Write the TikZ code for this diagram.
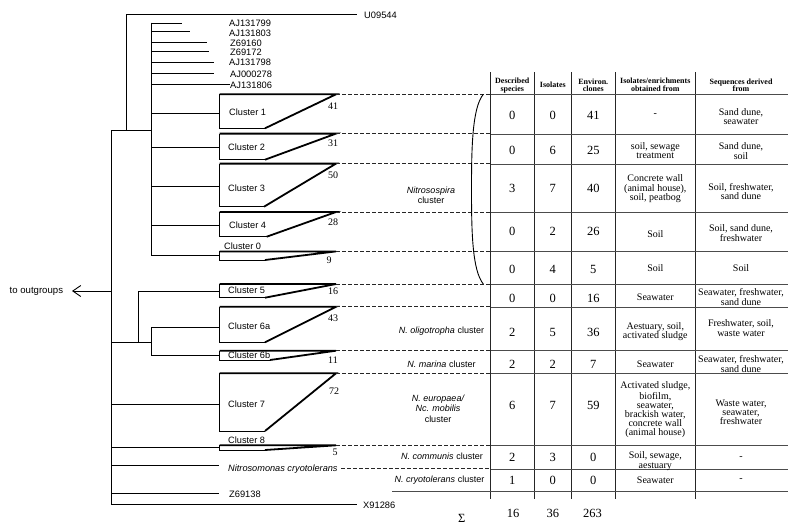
\documentclass[tikz,border=0pt]{standalone}
\usepackage{fontspec}
\setmainfont{Liberation Serif}
\setsansfont{Liberation Sans}
\usetikzlibrary{arrows.meta}
\tikzset{
 br/.style={line width=1pt},
 wthin/.style={line width=0.8pt},
 wthick/.style={line width=1.8pt, line join=miter},
 dsh/.style={dash pattern=on 3.5pt off 2.5pt, line width=0.8pt, black!85},
 rowl/.style={line width=1pt, black!70},
 coll/.style={line width=0.9pt, black!85},
 leaf/.style={font=\sffamily\fontsize{9.3}{10}\selectfont, anchor=west, inner sep=0pt},
 clab/.style={font=\sffamily\fontsize{9.2}{10}\selectfont, anchor=west, inner sep=0pt},
 wnum/.style={font=\fontsize{10}{10}\selectfont, inner sep=0pt},
 grp/.style={font=\sffamily\fontsize{9}{10.5}\selectfont, align=center, inner sep=0pt},
 hdr/.style={font=\bfseries\fontsize{8}{7.5}\selectfont, align=center, inner sep=0pt},
 val/.style={font=\fontsize{12.5}{13}\selectfont, inner sep=0pt},
 cell/.style={font=\fontsize{10}{9.6}\selectfont, align=center, inner sep=0pt},
}
\newcommand{\clwedge}[4]{%
  \coordinate (#1tl) at (219.5,#2);
  \coordinate (#1bl) at (219.5,#3);
  \coordinate (#1bx) at (#4,#3);
  \coordinate (#1tip) at (336,#2);
  \coordinate (#1end) at (490.5,#2);
  \draw[wthin] (#1tl) -- (#1bl) -- (#1bx);
  \draw[wthick] (#1tl) -- (#1tip) -- (#1bx);
  \draw[dsh] (#1tip) -- (#1end);
}
\begin{document}
\begin{tikzpicture}[x=1pt,y=-1pt]
\useasboundingbox (0,0) rectangle (800,528);
\fill[white] (0,0) rectangle (800,528);

% ---------- tree skeleton ----------
\coordinate (rtop) at (111,130);
\coordinate (rbot) at (111,504.3);
\draw[br] (rtop) -- (rbot);
\coordinate (n1) at (151,130);
\coordinate (u0) at (126,130);
\coordinate (u1) at (126,14.7);
\coordinate (u2) at (357,14.7);
\draw[br] (rtop) -- (n1);
\draw[br] (u0) -- (u1) -- (u2);
\node[leaf] (lU) at (364,15) {U09544};

% inner Nitrosospira node
\coordinate (it) at (151,22.7);
\coordinate (ib) at (151,255.7);
\draw[br] (it) -- (ib);
\foreach \i/\y/\x in {1/23/182, 2/31.7/190, 3/42/207, 4/51.7/209, 5/62/214, 6/73/214, 7/84.3/230}{
  \coordinate (la\i) at (151,\y);
  \coordinate (lb\i) at (\x,\y);
  \draw[br] (la\i) -- (lb\i);
}
\node[leaf] (l1) at (229,23.7) {AJ131799};
\node[leaf] (l2) at (229,33) {AJ131803};
\node[leaf] (l3) at (230,43.3) {Z69160};
\node[leaf] (l4) at (230,52.7) {Z69172};
\node[leaf] (l5) at (229,62.3) {AJ131798};
\node[leaf] (l6) at (230,74.3) {AJ000278};
\node[leaf] (l7) at (230,85.7) {AJ131806};

% branches to clusters 1-4, 0
\foreach \i/\y in {1/113, 2/147, 3/186, 4/225, 0/255.7}{
  \coordinate (ba\i) at (151,\y);
  \coordinate (bb\i) at (219.5,\y);
  \draw[br] (ba\i) -- (bb\i);
}

% group: cluster 5, 6a, 6b
\coordinate (g0) at (111,342.7);
\coordinate (g1) at (151,342.7);
\coordinate (g5a) at (138,342.7);
\coordinate (g5b) at (138,291.7);
\coordinate (g5c) at (219.5,291.7);
\draw[br] (g0) -- (g1);
\draw[br] (g5a) -- (g5b) -- (g5c);
\coordinate (g6t) at (151,327.3);
\coordinate (g6b) at (151,355.7);
\coordinate (g6ta) at (219.5,327.3);
\coordinate (g6bb) at (219.5,355.7);
\draw[br] (g6ta) -- (g6t) -- (g6b) -- (g6bb);

% cluster 7, 8, others
\foreach \n/\y/\x in {c7/404/219.5, c8/447.3/219.5, cr/465/219, z6/493.3/219, x9/504.3/357}{
  \coordinate (\n a) at (111,\y);
  \coordinate (\n b) at (\x,\y);
  \draw[br] (\n a) -- (\n b);
}
\node[clab, font=\sffamily\itshape\fontsize{9.2}{10}\selectfont] (lcr) at (228,469.3) {Nitrosomonas cryotolerans};
\node[leaf] (lz6) at (229,494) {Z69138};
\node[leaf] (lx9) at (363,505) {X91286};

% outgroups
\coordinate (og) at (111,291);
\node[clab, font=\sffamily\fontsize{9.6}{10}\selectfont] (out) at (9.5,291) {to outgroups};
\draw[br, -{Straight Barb[length=8pt,width=11pt,line width=0.9pt]}] (og) -- (72,291);

% ---------- cluster wedges ----------
\clwedge{w1}{94.3}{128.3}{265}
\clwedge{w2}{133.6}{159.7}{265}
\clwedge{w3}{163.6}{206.7}{264}
\clwedge{w4}{212}{236.7}{266.7}
\clwedge{w0}{251.4}{260}{265}
\clwedge{w5}{284}{297.7}{265}
\clwedge{w6a}{306.8}{342.3}{265}
\clwedge{w6b}{350.7}{360}{270}
\clwedge{w7}{373.3}{431}{265}
\clwedge{w8}{445.3}{450}{265}
\coordinate (crd) at (341,468.7);
\coordinate (crde) at (490.5,468.7);
\draw[dsh] (crd) -- (crde);

\node[clab] (cl1) at (229,112) {Cluster 1};
\node[clab] (cl2) at (228,147.3) {Cluster 2};
\node[clab] (cl3) at (228,188.3) {Cluster 3};
\node[clab] (cl4) at (229,225.7) {Cluster 4};
\node[clab] (cl0) at (224,246.3) {Cluster 0};
\node[clab] (cl5) at (228,290) {Cluster 5};
\node[clab] (cl6a) at (228,326.7) {Cluster 6a};
\node[clab] (cl6b) at (228,355.7) {Cluster 6b};
\node[clab] (cl7) at (228,404) {Cluster 7};
\node[clab] (cl8) at (228,440.3) {Cluster 8};

\node[wnum] (n41) at (333,106) {41};
\node[wnum] (n31) at (333,143.7) {31};
\node[wnum] (n50) at (333,175) {50};
\node[wnum] (n28) at (333,222.7) {28};
\node[wnum] (n9) at (329,260.3) {9};
\node[wnum] (n16) at (333,291) {16};
\node[wnum] (n43) at (333,318) {43};
\node[wnum] (n11) at (333,360) {11};
\node[wnum] (n72) at (334,391) {72};
\node[wnum] (n5) at (335,452.7) {5};

% ---------- brace and group labels ----------
\coordinate (bt) at (483.3,94.3);
\coordinate (bm) at (471.5,189);
\coordinate (bb) at (483.3,284);
\draw[line width=0.9pt] (bt) .. controls (472,108) and (471.5,150) .. (bm) .. controls (471.5,230) and (472,270) .. (bb);

\node[grp] (gNs) at (431,195.5) {\itshape Nitrosospira\\cluster};
\node[grp] (gOl) at (441.5,331) {\itshape N. oligotropha\upshape\ cluster};
\node[grp] (gMa) at (441.5,364.3) {\itshape N. marina\upshape\ cluster};
\node[grp] (gEu) at (438,408.3) {\itshape N. europaea/\\\itshape Nc. mobilis\\cluster};
\node[grp] (gCo) at (442,456) {\itshape N. communis\upshape\ cluster};
\node[grp] (gCr) at (439.5,480) {\itshape N. cryotolerans\upshape\ cluster};

% ---------- table lines ----------
\foreach \i/\x in {1/490.5, 2/534, 3/571.5, 4/615, 5/695.5}{
  \coordinate (vt\i) at (\x,72);
  \coordinate (vb\i) at (\x,499);
  \draw[coll] (vt\i) -- (vb\i);
}
\foreach \i/\y in {0/94.3, 1/134, 2/164, 3/212, 4/251.3, 5/284, 6/307, 7/350.7, 8/373.3, 9/445.3, 10/469}{
  \coordinate (ra\i) at (490.5,\y);
  \coordinate (rb\i) at (788,\y);
  \draw[rowl] (ra\i) -- (rb\i);
}
\coordinate (bla) at (392,491);
\coordinate (blb) at (788,491);
\draw[rowl] (bla) -- (blb);

% ---------- header ----------
\node[hdr] (h1) at (512.3,85.5) {Described\\species};
\node[hdr] (h2) at (552.8,84.5) {Isolates};
\node[hdr] (h3) at (593.3,85.5) {Environ.\\clones};
\node[hdr] (h4) at (655.3,85) {Isolates/enrichments\\obtained from};
\node[hdr] (h5) at (741,85.5) {Sequences derived\\from};

% ---------- numeric values ----------
\foreach \i/\y/\a/\b/\c in {1/115/0/0/41, 2/150/0/6/25, 3/188/3/7/40, 4/231.7/0/2/26, 5/269/0/4/5, 6/298.5/0/0/16, 7/332.5/2/5/36, 8/364.3/2/2/7, 9/405/6/7/59, 10/457.3/2/3/0, 11/480/1/0/0}{
  \node[val] (va\i) at (512.3,\y) {\a};
  \node[val] (vb\i) at (552.8,\y) {\b};
  \node[val] (vc\i) at (593.3,\y) {\c};
}
\node[val] (sig) at (461.7,518) {Σ};
\node[val] (s1) at (513,513.3) {16};
\node[val] (s2) at (552.8,513.3) {36};
\node[val] (s3) at (592.5,513.3) {263};

% ---------- text cells ----------
\node[cell] (d1) at (655.3,115) {-};
\node[cell] (e1) at (741,116.5) {Sand dune,\\seawater};
\node[cell] (d2) at (655.3,150.5) {soil, sewage\\treatment};
\node[cell] (e2) at (741,151) {Sand dune,\\soil};
\node[cell] (d3) at (655.3,189) {Concrete wall\\(animal house),\\soil, peatbog};
\node[cell] (e3) at (741,191.5) {Soil, freshwater,\\sand dune};
\node[cell] (d4) at (655.3,234) {Soil};
\node[cell] (e4) at (741,233) {Soil, sand dune,\\freshwater};
\node[cell] (d5) at (655.3,268.5) {Soil};
\node[cell] (e5) at (741,268.5) {Soil};
\node[cell] (d6) at (655.3,297) {Seawater};
\node[cell] (e6) at (741,296.8) {Seawater, freshwater,\\sand dune};
\node[cell] (d7) at (655.3,331.8) {Aestuary, soil,\\activated sludge};
\node[cell] (e7) at (741,327.8) {Freshwater, soil,\\waste water};
\node[cell] (d8) at (655.3,364.5) {Seawater};
\node[cell] (e8) at (741,363.8) {Seawater, freshwater,\\sand dune};
\node[cell, font=\fontsize{10}{9}\selectfont] (d9) at (655.3,409.5) {Activated sludge,\\biofilm,\\seawater,\\brackish water,\\concrete wall\\(animal house)};
\node[cell, font=\fontsize{10}{9}\selectfont] (e9) at (741,412.5) {Waste water,\\seawater,\\freshwater};
\node[cell] (d10) at (655.3,461) {Soil, sewage,\\aestuary};
\node[cell] (e10) at (741,458) {-};
\node[cell] (d11) at (655.3,480) {Seawater};
\node[cell] (e11) at (741,480) {-};
\end{tikzpicture}
\end{document}
